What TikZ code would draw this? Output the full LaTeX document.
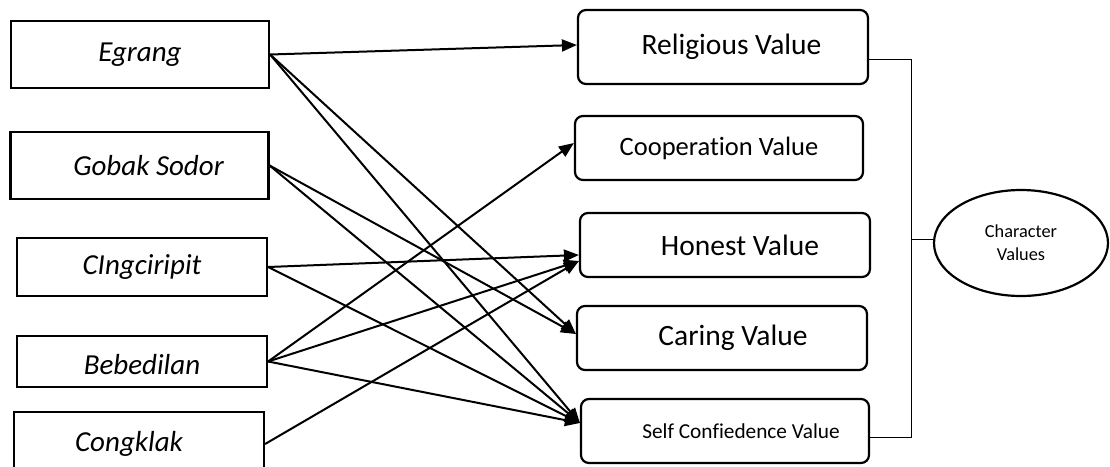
\documentclass[tikz,border=0pt]{standalone}
\usepackage{fontspec}
\setmainfont{Carlito}[Ligatures=NoCommon]
\usetikzlibrary{arrows.meta,shapes.geometric}

\tikzset{
  gamebox/.style={draw, line width=2.2pt, minimum width=258pt, inner sep=0pt,
    font=\fontsize{29}{34}\selectfont\itshape},
  valuebox/.style={draw, line width=2.2pt, rounded corners=8pt, minimum width=290pt,
    minimum height=64pt, inner sep=0pt, font=\fontsize{29.5}{34}\selectfont},
  link/.style={-{Triangle[length=15pt,width=12pt]}, line width=2pt},
  bracket/.style={line width=1pt},
}

\begin{document}
\begin{tikzpicture}[x=1pt,y=-1pt]
  \clip (0,0) rectangle (1110,466);

  % Traditional games
  \node[gamebox, minimum height=67pt] (egr) at (140,54.5) {Egrang};
  \node[gamebox, minimum height=67pt] (gob) at (139.5,165.5) {\hspace*{18pt}Gobak Sodor};
  \node[gamebox, minimum width=250pt, minimum height=58pt] (cin) at (142,267) {CIngciripit};
  \node[gamebox, minimum width=250pt, minimum height=51pt, text height=33pt, text depth=7pt] (beb) at (142,361.5) {Bebedilan};
  \node[gamebox, minimum width=250pt, minimum height=64pt] (con) at (139,444) {Congklak\hspace*{20pt}};

  % Values
  \node[valuebox, minimum height=74pt] (rel) at (723,47) {\hspace*{17pt}Religious Value};
  \node[valuebox, minimum width=288pt, font=\fontsize{26.5}{31}\selectfont] (coo) at (719,148) {Cooperation Value};
  \node[valuebox] (hon) at (725,245) {\hspace*{30pt}Honest Value};
  \node[valuebox] (car) at (722,338) {\hspace*{22pt}Caring Value};
  \node[valuebox, minimum width=288pt, font=\fontsize{21.3}{26}\selectfont] (slf) at (725,431) {\hspace*{32pt}Self Confiedence Value};

  % Character values
  \node[draw, ellipse, line width=2.2pt, minimum width=174pt, minimum height=106pt, inner sep=0pt,
    align=center, font=\fontsize{18.3}{23}\selectfont] (chv) at (1021,243) {Character\\Values};

  % Games to values
  \foreach \from/\to/\dy in {egr/rel/2, egr/car/4, egr/slf/8, gob/car/4, gob/slf/8,
    cin/hon/-10, cin/slf/8, beb/coo/5, beb/hon/-16, beb/slf/8, con/hon/-16}
    \draw[link] (\from.east) -- ([yshift=\dy pt]\to.west);

  % Values to character values
  \coordinate (bus) at (911,239);
  \draw[bracket] ([yshift=-12pt]rel.east) -| (bus) |- ([yshift=-6pt]slf.east);
  \draw[bracket] (bus) -- ([yshift=4pt]chv.west);
\end{tikzpicture}
\end{document}
